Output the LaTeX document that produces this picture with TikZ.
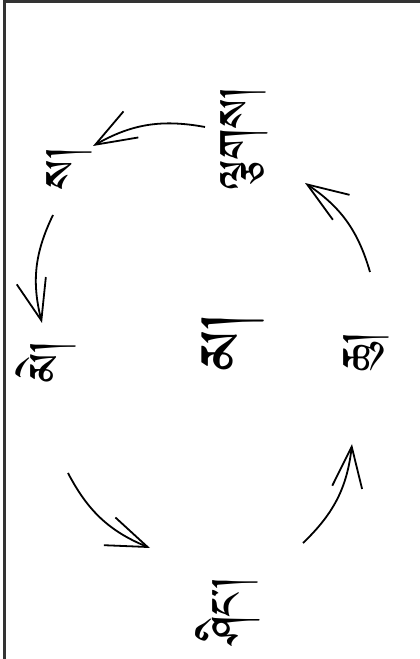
\documentclass[tikz,border=0pt]{standalone}
\usepackage{fontspec}
\newfontfamily\tibfont[Script=Tibetan]{Jomolhari}
\usetikzlibrary{arrows.meta}
\begin{document}
\begin{tikzpicture}[
  x=1pt, y=1pt,
  word/.style={font=\tibfont\fontsize{54}{58}\selectfont, rotate=90, inner sep=0pt},
  bigword/.style={word, font=\tibfont\fontsize{74}{80}\selectfont},
  cycle/.style={-{Straight Barb[length=41pt, width=30pt]}, line width=1.8pt, bend right=20},
]
  \useasboundingbox (0,0) rectangle (420,659);
  \draw[line width=3pt, black!80] (4.5,-20) rectangle (440,657.7);

  % the five elements, turned on their side
  \node[word] (lcags) at (244,521) {ལྕགས།};
  \node[word] (sa) at (69,491) {ས།};
  \node[word] (me) at (46,297) {མེ།};
  \node[bigword] (ma) at (233,317) {མ།};
  \node[word] (chu) at (366,307) {ཆུ།};
  \node[word] (shing) at (228,48) {ཤིང།};

  % arrow ends
  \coordinate (lcags-out) at (205,532);
  \coordinate (sa-in) at (93,513);
  \coordinate (sa-out) at (53,444);
  \coordinate (me-in) at (42,336);
  \coordinate (me-out) at (68,186);
  \coordinate (shing-in) at (150,111);
  \coordinate (shing-out) at (303,116);
  \coordinate (chu-in) at (352,215);
  \coordinate (chu-out) at (370,387);
  \coordinate (lcags-in) at (305,476);

  \foreach \a/\b in {lcags-out/sa-in, sa-out/me-in, me-out/shing-in, shing-out/chu-in, chu-out/lcags-in}
    \draw[cycle] (\a) to (\b);
\end{tikzpicture}
\end{document}
